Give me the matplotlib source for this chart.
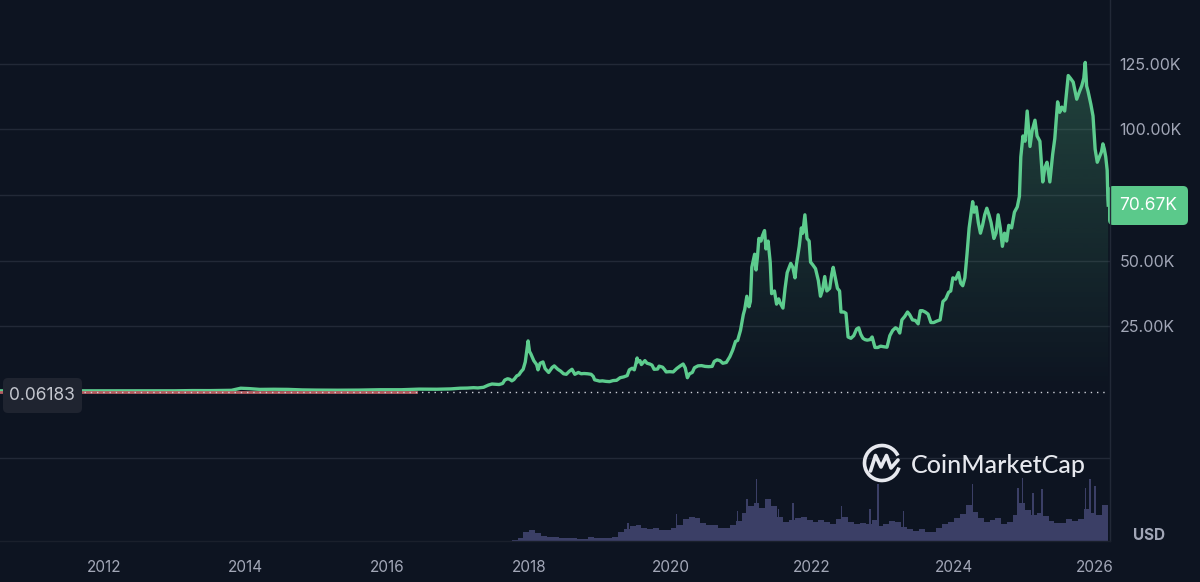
import numpy as np
import matplotlib
matplotlib.use("Agg")
import matplotlib.pyplot as plt
from matplotlib.patches import FancyBboxPatch, Arc
from matplotlib.colors import to_rgb

# ---------------- data ----------------
price_dates = [
    2010.53, 2010.9, 2011.2, 2011.45, 2011.8, 2012.3, 2012.7, 2013.0, 2013.25, 2013.5,
    2013.8, 2013.93, 2014.05, 2014.2, 2014.4, 2014.6, 2014.8, 2015.0, 2015.3, 2015.6,
    2015.9, 2016.2, 2016.45, 2016.7, 2016.9,
    2017.03, 2017.13, 2017.22, 2017.28, 2017.36, 2017.43, 2017.48, 2017.53, 2017.58, 2017.63,
    2017.66, 2017.70, 2017.73, 2017.76, 2017.79, 2017.83, 2017.86, 2017.89, 2017.92, 2017.95,
    2017.99, 2018.01, 2018.03, 2018.07, 2018.11, 2018.13, 2018.16, 2018.20, 2018.23, 2018.28,
    2018.33, 2018.36, 2018.41, 2018.45, 2018.49, 2018.53, 2018.57, 2018.61, 2018.65, 2018.70,
    2018.74, 2018.78, 2018.83, 2018.88, 2018.91, 2018.93, 2018.97, 2019.00, 2019.04, 2019.09,
    2019.14, 2019.19, 2019.24, 2019.29, 2019.34, 2019.39, 2019.42, 2019.46, 2019.49, 2019.51,
    2019.53, 2019.54, 2019.57, 2019.59, 2019.64, 2019.67, 2019.71, 2019.74, 2019.77, 2019.82,
    2019.84, 2019.89, 2019.92, 2019.94, 2019.99, 2020.04, 2020.09, 2020.14, 2020.18, 2020.21,
    2020.24, 2020.27, 2020.31, 2020.34, 2020.39, 2020.44, 2020.49, 2020.54, 2020.59, 2020.62,
    2020.66, 2020.70, 2020.74, 2020.79, 2020.84, 2020.88, 2020.92, 2020.95, 2020.99, 2021.03,
    2021.05, 2021.08, 2021.11, 2021.13, 2021.15, 2021.19, 2021.21, 2021.23, 2021.25, 2021.28,
    2021.30, 2021.33, 2021.35, 2021.38, 2021.41, 2021.43, 2021.47, 2021.50, 2021.53, 2021.55,
    2021.59, 2021.62, 2021.65, 2021.70, 2021.73, 2021.76, 2021.78, 2021.82, 2021.85, 2021.87,
    2021.90, 2021.93, 2021.96, 2021.98, 2022.01, 2022.05, 2022.09, 2022.12, 2022.15, 2022.18,
    2022.21, 2022.25, 2022.28, 2022.30, 2022.33, 2022.36, 2022.39, 2022.41, 2022.45, 2022.48,
    2022.51, 2022.55, 2022.59, 2022.63, 2022.66, 2022.69, 2022.72, 2022.75, 2022.78, 2022.82,
    2022.85, 2022.89, 2022.93, 2022.97, 2023.01, 2023.06, 2023.10, 2023.14, 2023.18, 2023.21,
    2023.24, 2023.27, 2023.31, 2023.35, 2023.38, 2023.42, 2023.46, 2023.50, 2023.53, 2023.56,
    2023.60, 2023.64, 2023.68, 2023.72, 2023.76, 2023.81, 2023.85, 2023.89, 2023.93, 2023.96,
    2023.99, 2024.03, 2024.07, 2024.10, 2024.13, 2024.16, 2024.19, 2024.22, 2024.25, 2024.27,
    2024.29, 2024.32, 2024.35, 2024.38, 2024.41, 2024.44, 2024.47, 2024.50, 2024.53, 2024.57,
    2024.60, 2024.63, 2024.66, 2024.69, 2024.72, 2024.75, 2024.78, 2024.82, 2024.86, 2024.90,
    2024.93, 2024.95, 2024.98, 2025.01, 2025.04, 2025.08, 2025.11, 2025.15, 2025.18, 2025.22,
    2025.26, 2025.29, 2025.32, 2025.36, 2025.40, 2025.43, 2025.47, 2025.50, 2025.53, 2025.57,
    2025.62, 2025.65, 2025.69, 2025.74, 2025.78, 2025.81, 2025.84, 2025.86, 2025.88, 2025.90,
    2025.94, 2025.97, 2026.00, 2026.03, 2026.06, 2026.09, 2026.11, 2026.13, 2026.15, 2026.17,
    2026.18, 2026.185,
]
price_k = [
    0.00006, 0.0003, 0.001, 0.02, 0.005, 0.005, 0.012, 0.013, 0.1, 0.09,
    0.2, 1.0, 0.85, 0.55, 0.6, 0.55, 0.35, 0.28, 0.24, 0.28,
    0.42, 0.42, 0.65, 0.61, 0.74,
    1.0, 1.05, 1.2, 1.1, 1.35, 2.2, 2.6, 2.5, 2.4, 2.8,
    4.1, 4.6, 4.4, 3.8, 4.3, 5.7, 6.1, 7.3, 8.2, 11.0,
    19.0, 15.0, 14.0, 11.5, 10.0, 8.0, 10.5, 11.0, 8.5, 7.0,
    8.9, 9.5, 8.2, 7.5, 6.5, 6.3, 7.4, 8.2, 6.3, 7.0,
    6.5, 6.6, 6.5, 6.3, 5.5, 4.2, 3.9, 3.7, 3.8, 3.6,
    3.5, 3.9, 4.0, 5.0, 5.3, 5.8, 8.0, 8.6, 8.0, 10.0,
    12.5, 11.0, 11.5, 10.0, 11.5, 10.5, 10.2, 9.8, 8.2, 8.3,
    9.4, 9.0, 8.0, 7.2, 7.3, 7.2, 8.5, 9.5, 10.2, 8.7,
    5.0, 6.5, 7.0, 8.8, 9.5, 9.6, 9.3, 9.2, 9.3, 11.2,
    11.8, 11.5, 10.5, 10.8, 13.0, 15.5, 18.8, 19.2, 23.0, 29.0,
    31.0, 36.0, 32.0, 34.0, 47.0, 52.0, 46.0, 51.0, 58.0, 57.0,
    59.0, 61.0, 54.0, 57.0, 49.0, 37.0, 38.0, 33.0, 35.0, 33.5,
    31.5, 39.0, 45.0, 48.5, 47.0, 43.0, 48.0, 55.0, 62.0, 60.0,
    67.0, 58.0, 57.0, 49.0, 48.0, 46.5, 42.0, 36.0, 38.5, 43.5,
    38.0, 39.0, 44.5, 47.0, 43.0, 39.0, 38.0, 30.0, 30.0, 29.5,
    20.5, 20.0, 21.0, 23.5, 24.0, 21.5, 20.0, 19.5, 19.3, 19.5,
    20.5, 16.5, 16.5, 17.0, 16.8, 16.6, 21.0, 23.0, 24.0, 23.5,
    22.0, 27.0, 28.3, 30.0, 29.0, 27.0, 26.8, 25.5, 30.5, 30.5,
    30.0, 29.2, 26.0, 26.0, 26.5, 27.0, 34.0, 35.0, 37.5, 38.0,
    43.0, 42.5, 45.0, 41.0, 40.0, 43.0, 52.0, 62.0, 68.0, 72.0,
    68.0, 70.0, 64.0, 60.0, 63.0, 67.0, 69.5, 67.0, 64.0, 58.0,
    60.0, 67.0, 62.0, 55.0, 60.0, 57.0, 63.0, 62.0, 68.0, 70.0,
    74.0, 89.0, 97.0, 95.0, 106.5, 93.0, 99.0, 103.0, 97.0, 95.0,
    79.5, 85.0, 87.0, 79.5, 90.0, 96.0, 110.0, 106.0, 108.0, 106.5,
    120.0, 119.0, 117.5, 111.0, 114.0, 116.0, 119.0, 125.0, 116.0, 114.0,
    109.0, 104.6, 92.0, 87.0, 89.0, 91.0, 94.0, 92.0, 89.0, 84.0,
    73.0, 70.67,
]

# monthly volume (relative height) starting 2017.80
vol_start = 2017.80
vol_values = [
    1, 3, 9,
    11, 8, 5, 4, 4, 3, 3, 3, 2, 2, 4, 3,
    3, 3, 4, 9, 12, 15, 16, 13, 12, 13, 11, 11,
    13, 16, 22, 24, 23, 18, 16, 16, 13, 13, 16, 20,
    28, 35, 38, 33, 42, 35, 24, 19, 21, 23, 24, 21,
    19, 21, 19, 17, 22, 24, 19, 17, 18, 17, 21, 15,
    17, 20, 19, 14, 12, 10, 12, 9, 9, 13, 17, 19,
    23, 27, 36, 29, 23, 19, 21, 23, 17, 19, 26, 38,
    31, 26, 28, 25, 20, 18, 18, 22, 20, 22, 32, 28,
    26, 36,
]
spike_dates = [2018.06, 2019.40, 2020.09, 2020.95, 2021.08, 2021.22, 2021.38, 2021.53,
               2021.73, 2022.42, 2022.82, 2022.93, 2023.29, 2024.27, 2024.91, 2024.97,
               2025.12, 2025.25, 2025.86, 2025.93, 2026.00, 2026.17]
spike_heights = [10, 18, 27, 30, 42, 62, 40, 32, 38, 35, 32, 57, 30, 57, 53, 63,
                 48, 52, 53, 62, 55, 30]

year_ticks = [2012, 2014, 2016, 2018, 2020, 2022, 2024, 2026]
price_ticks = [25, 50, 100, 125]
price_tick_labels = ["25.00K", "50.00K", "100.00K", "125.00K"]
grid_levels = [-25, 25, 50, 75, 100, 125]
last_price_label = "70.67K"
first_price_label = "0.06183"

# ---------------- style ----------------
BG = "#0d1421"
GREEN = "#5dcc8e"
GRID = "#222937"
TXT = "#a2a7b7"
VOL = "#3b3f66"

W, H = 1200, 582
fig = plt.figure(figsize=(W / 100, H / 100), dpi=100, facecolor=BG)

x0, x1 = 2010.53, 2026.21
y0, y1 = -56.7, 149.2
ax = fig.add_axes([0, 41 / H, 1110 / W, 541 / H])
ax.set_facecolor(BG)
for s in ax.spines.values():
    s.set_visible(False)

for g in grid_levels:
    ax.axhline(g, color=GRID, lw=1, zorder=0.5)

# volume
vol_dates = vol_start + np.arange(len(vol_values)) / 12.0
vol_scale = (y1 - y0) / 541.0  # pixel-height to data units
ax.bar(vol_dates, np.array(vol_values) * vol_scale, bottom=y0, width=1 / 12.0,
       color=VOL, lw=0, zorder=1, align="center")
ax.bar(spike_dates, np.array(spike_heights) * vol_scale, bottom=y0, width=0.02,
       color=VOL, lw=0, zorder=1)

# gradient fill under the price line
dates = np.array(price_dates)
prices = np.array(price_k)
poly = ax.fill_between(dates, prices, 0, color="none", lw=0)
rgb = to_rgb(GREEN)
grad = np.zeros((256, 1, 4))
grad[..., 0], grad[..., 1], grad[..., 2] = rgb
grad[..., 3] = np.linspace(0.27, 0.0, 256)[:, None]
im = ax.imshow(grad, extent=[x0, x1, 0, 130], aspect="auto", origin="upper", zorder=2,
               interpolation="bilinear")
im.set_clip_path(poly.get_paths()[0], transform=ax.transData)

# price line
ax.plot(dates, prices + 0.45, color=GREEN, lw=2.4, zorder=3, solid_joinstyle="round")
# early reddish baseline (drawn over the flat early part of the line)
ax.plot([x0, 2016.4], [-0.1, -0.1], color="#b45c60", lw=2.0, zorder=3.5)
# dotted zero line
ax.plot([2011.72, 2026.18], [0, 0], color="#cfd2da", lw=1.0, ls=(0, (1, 3.5)), zorder=4)

ax.set_xlim(x0, x1)
ax.set_ylim(y0, y1)

ax.set_xticks(year_ticks)
ax.set_xticklabels([str(y) for y in year_ticks])
ax.yaxis.tick_right()
ax.set_yticks(price_ticks)
ax.set_yticklabels(price_tick_labels)
ax.tick_params(axis="x", length=0, pad=14, colors=TXT, labelsize=11)
ax.tick_params(axis="y", length=0, pad=7, colors=TXT, labelsize=11.5)
for lab in ax.get_xticklabels() + ax.get_yticklabels():
    lab.set_fontfamily("Inter")
ax.grid(False)

# ---------------- overlay (pixel space) ----------------
ov = fig.add_axes([0, 0, 1, 1], zorder=10)
ov.set_xlim(0, W)
ov.set_ylim(H, 0)
ov.axis("off")
ov.patch.set_alpha(0)

# right separator & bottom line
ov.plot([1110, 1110], [0, 541], color=GRID, lw=1)
ov.plot([0, 1110], [541, 541], color="#1a202c", lw=1)

# last price tag
ov.add_patch(FancyBboxPatch((1108, 186), 80, 39, boxstyle="round,pad=0,rounding_size=5",
                            fc="#5bc98b", ec="none"))
ov.text(1148, 206, last_price_label, color="white", fontsize=12.5, ha="center",
        va="center", family="Inter")

# first price tag
ov.add_patch(FancyBboxPatch((3, 378), 79, 35, boxstyle="round,pad=0,rounding_size=5",
                            fc="#1f2430", ec="none"))
ov.text(42, 396, first_price_label, color="#c3c6ce", fontsize=12.5, ha="center",
        va="center", family="Inter")

# USD
ov.text(1149, 535, "USD", color=TXT, fontsize=11, fontweight="bold", ha="center",
        va="center", family="Inter")

# watermark
ov.add_patch(Arc((882, 463), 35, 35, theta1=15, theta2=335, color="#e6e8ee", lw=2.6))
ov.plot([870.5, 875.5, 881, 886.5, 891, 898], [471, 455.5, 467, 455.5, 468, 460],
        color="#e6e8ee", lw=2.6, solid_joinstyle="round", solid_capstyle="round")
ov.text(911, 473, "CoinMarketCap", color="#e6e8ee", fontsize=18, fontweight="medium",
        ha="left", va="baseline", family="Lato")

fig.savefig("out.png", dpi=100, facecolor=BG)
